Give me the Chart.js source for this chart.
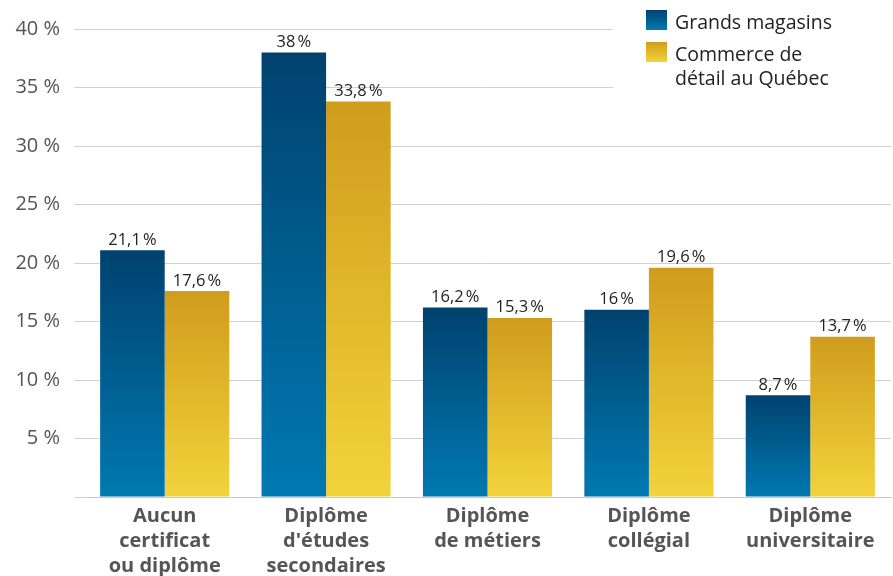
<!DOCTYPE html>
<html>
<head>
<meta charset="utf-8">
<script src="https://cdn.jsdelivr.net/npm/chart.js@4"></script>
<style>
  html, body { margin: 0; padding: 0; background: #fff; }
  #wrap { width: 893px; height: 576px; position: relative; }
</style>
</head>
<body>
<div id="wrap"><canvas id="barChart"></canvas></div>
<script>
const categories = [
    ['Aucun', 'certificat', 'ou diplôme'],
    ['Diplôme', "d'études", 'secondaires'],
    ['Diplôme', 'de métiers'],
    ['Diplôme', 'collégial'],
    ['Diplôme', 'universitaire']
];
const seriesNames = ['Grands magasins', 'Commerce de détail au Québec'];
const grandsMagasins = [21.1, 38, 16.2, 16, 8.7];
const commerceQuebec = [17.6, 33.8, 15.3, 19.6, 13.7];
const yTicks = [0, 5, 10, 15, 20, 25, 30, 35, 40];

const blue = { top: '#00426f', bottom: '#0079b2' };
const gold = { top: '#d09c1c', bottom: '#f2d33b' };
const fontFamily = "'Open Sans', sans-serif";

const fmt = v => String(v).replace('.', ',') + '\u202f%';

function barGradient(colors) {
    return (ctx) => {
        const chart = ctx.chart;
        if (!chart.chartArea || ctx.type !== 'data') return colors.top;
        const y = chart.scales.y;
        const yTop = y.getPixelForValue(ctx.raw);
        const yBot = y.getPixelForValue(0);
        const g = chart.ctx.createLinearGradient(0, yTop, 0, yBot);
        g.addColorStop(0, colors.top);
        g.addColorStop(1, colors.bottom);
        return g;
    };
}

// value labels above bars
const valueLabels = {
    id: 'valueLabels',
    afterDatasetsDraw(chart) {
        const c = chart.ctx;
        c.save();
        c.font = `16.5px ${fontFamily}`;
        c.fillStyle = '#222';
        c.textAlign = 'center';
        c.textBaseline = 'bottom';
        chart.data.datasets.forEach((ds, i) => {
            chart.getDatasetMeta(i).data.forEach((bar, j) => {
                c.fillText(fmt(ds.data[j]), bar.x, bar.y - 2);
            });
        });
        c.restore();
    }
};

// legend box in top right corner
const cornerLegend = {
    id: 'cornerLegend',
    afterDraw(chart) {
        const c = chart.ctx;
        c.save();
        c.fillStyle = '#fff';
        c.fillRect(613, 0, 280, 96);
        const items = [
            { colors: blue, y: 10, lines: ['Grands magasins'] },
            { colors: gold, y: 42, lines: ['Commerce de', 'détail au Québec'] }
        ];
        c.font = `19.5px ${fontFamily}`;
        c.textBaseline = 'middle';
        c.textAlign = 'left';
        items.forEach(it => {
            const g = c.createLinearGradient(0, it.y, 0, it.y + 20);
            g.addColorStop(0, it.colors.top);
            g.addColorStop(1, it.colors.bottom);
            c.fillStyle = g;
            c.fillRect(646, it.y, 21, 20);
            c.fillStyle = '#222';
            it.lines.forEach((l, k) => c.fillText(l, 675, it.y + 13 + k * 24));
        });
        c.restore();
    }
};

new Chart(document.getElementById('barChart'), {
    type: 'bar',
    data: {
        labels: categories,
        datasets: [
            { label: seriesNames[0], data: grandsMagasins, backgroundColor: barGradient(blue) },
            { label: seriesNames[1], data: commerceQuebec, backgroundColor: barGradient(gold) }
        ]
    },
    options: {
        responsive: true,
        maintainAspectRatio: false,
        animation: false,
        categoryPercentage: 0.8,
        barPercentage: 1,
        layout: { padding: { top: 29, right: 2, left: 0, bottom: 0 } },
        plugins: { legend: { display: false }, tooltip: { enabled: false } },
        scales: {
            x: {
                grid: { display: false },
                border: { display: true, color: '#c8c8c8', width: 1 },
                afterFit: (axis) => { axis.height = 79; },
                ticks: {
                    color: '#555',
                    font: { family: fontFamily, size: 20, weight: 'bold', lineHeight: 1.25 },
                    maxRotation: 0,
                    padding: -1
                }
            },
            y: {
                min: 0,
                max: 40,
                afterBuildTicks: (axis) => { axis.ticks = yTicks.map(v => ({ value: v })); },
                afterFit: (axis) => { axis.width = 84; },
                grid: { color: '#d0d0d0', lineWidth: 1, drawTicks: true, tickLength: 10 },
                border: { display: false },
                ticks: {
                    color: '#555',
                    padding: 14,
                    font: { family: fontFamily, size: 20 },
                    callback: (v) => v === 0 ? '' : v + ' %'
                }
            }
        }
    },
    plugins: [valueLabels, cornerLegend]
});
</script>
</body>
</html>
